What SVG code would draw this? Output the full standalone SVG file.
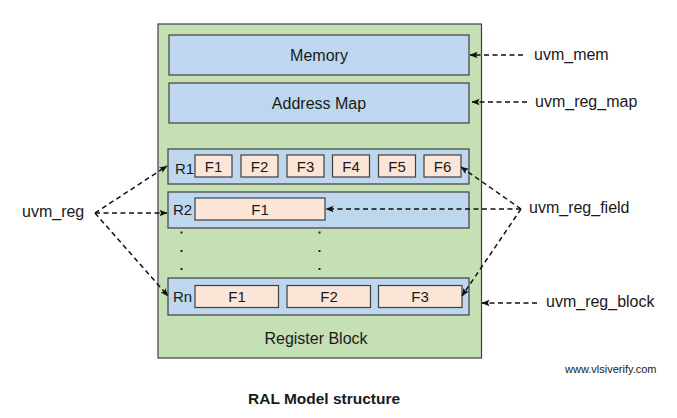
<svg xmlns="http://www.w3.org/2000/svg" width="677" height="418" viewBox="0 0 677 418">
<style>
text { font-family: "Liberation Sans", Arial, sans-serif; fill: #1a1a1a; }
.outer { fill: #c5e0b4; stroke: #3f3f3f; stroke-width: 1.2; }
.blue { fill: #bdd7ee; stroke: #3f3f3f; stroke-width: 1.2; }
.fld { fill: #fbe5d6; stroke: #3f3f3f; stroke-width: 1.2; }
.t16 { font-size: 16px; }
.t15 { font-size: 15px; }
.lbl { font-size: 16px; }
.c { text-anchor: middle; }
.con { stroke: #111; stroke-width: 1.5; stroke-dasharray: 5 3.5; fill: none; marker-end: url(#ah); }
.dot { fill: #222; }
</style>
<defs>
<marker id="ah" markerUnits="userSpaceOnUse" markerWidth="8" markerHeight="8" viewBox="0 0 8 8" refX="7.5" refY="4" orient="auto">
<path d="M0,0.8 L8,4 L0,7.2 L1.6,4 Z" fill="#111"/>
</marker>
</defs>
<rect width="677" height="418" fill="#ffffff"/>
<g id="register-block">
<rect class="outer" x="158" y="24" width="323.5" height="334"/>
<text class="t16 c" x="316" y="344">Register Block</text>
</g>
<g id="memory">
<rect class="blue" x="169" y="35" width="300" height="40"/>
<text class="t16 c" x="319" y="61">Memory</text>
</g>
<g id="address-map">
<rect class="blue" x="169" y="83" width="300" height="40"/>
<text class="t16 c" x="319" y="109">Address Map</text>
</g>
<g id="r1">
<rect class="blue" x="168" y="149" width="301" height="35"/>
<text class="t15" x="175" y="174">R1</text>
<rect class="fld" x="195" y="155" width="37" height="22"/>
<text class="t15 c" x="213.5" y="172">F1</text>
<rect class="fld" x="241" y="155" width="37" height="22"/>
<text class="t15 c" x="259.5" y="172">F2</text>
<rect class="fld" x="287" y="155" width="37" height="22"/>
<text class="t15 c" x="305.5" y="172">F3</text>
<rect class="fld" x="332.5" y="155" width="37" height="22"/>
<text class="t15 c" x="351" y="172">F4</text>
<rect class="fld" x="378.5" y="155" width="37" height="22"/>
<text class="t15 c" x="397" y="172">F5</text>
<rect class="fld" x="424" y="155" width="37" height="22"/>
<text class="t15 c" x="442.5" y="172">F6</text>
</g>
<g id="r2">
<rect class="blue" x="168" y="192" width="301" height="36"/>
<text class="t15" x="173" y="215">R2</text>
<rect class="fld" x="195" y="198" width="130" height="22"/>
<text class="t15 c" x="260" y="215">F1</text>
</g>
<g id="ellipsis">
<rect class="dot" x="180.5" y="231.5" width="2" height="2"/>
<rect class="dot" x="180.5" y="250" width="2" height="2"/>
<rect class="dot" x="180.5" y="268" width="2" height="2"/>
<rect class="dot" x="318.5" y="231.5" width="2" height="2"/>
<rect class="dot" x="318.5" y="250" width="2" height="2"/>
<rect class="dot" x="318.5" y="268" width="2" height="2"/>
</g>
<g id="rn">
<rect class="blue" x="168" y="278" width="301" height="37"/>
<text class="t15" x="173" y="302">Rn</text>
<rect class="fld" x="195" y="285.5" width="83.5" height="22"/>
<text class="t15 c" x="237" y="302">F1</text>
<rect class="fld" x="287" y="285.5" width="83.5" height="22"/>
<text class="t15 c" x="329" y="302">F2</text>
<rect class="fld" x="378.5" y="285.5" width="83.5" height="22"/>
<text class="t15 c" x="420" y="302">F3</text>
</g>
<g id="uvm_reg"><text class="lbl" x="22" y="217">uvm_reg</text></g>
<g id="uvm_mem"><text class="lbl" x="534" y="60">uvm_mem</text></g>
<g id="uvm_reg_map"><text class="lbl" x="535" y="107">uvm_reg_map</text></g>
<g id="uvm_reg_field"><text class="lbl" x="529" y="213">uvm_reg_field</text></g>
<g id="uvm_reg_block"><text class="lbl" x="546" y="307">uvm_reg_block</text></g>
<g id="connectors">
<line class="con" x1="95" y1="213" x2="167" y2="166"/>
<line class="con" x1="95" y1="213" x2="167" y2="213"/>
<line class="con" x1="95" y1="213" x2="168" y2="296"/>
<line class="con" x1="523" y1="55" x2="470" y2="55"/>
<line class="con" x1="527" y1="102" x2="472" y2="102"/>
<line class="con" x1="521" y1="209" x2="461" y2="167"/>
<line class="con" x1="521" y1="209" x2="326" y2="209"/>
<line class="con" x1="521" y1="209" x2="462" y2="296"/>
<line class="con" x1="537" y1="303" x2="482" y2="303"/>
</g>
<g id="captions">
<text x="565" y="373" style="font-size:11px">www.vlsiverify.com</text>
<text x="248" y="404" style="font-size:15.5px;font-weight:bold">RAL Model structure</text>
</g>
</svg>
